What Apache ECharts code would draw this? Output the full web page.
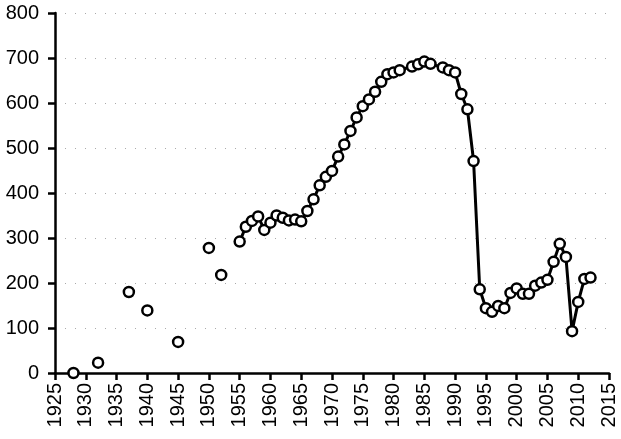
<!DOCTYPE html>
<html>
<head>
<meta charset="utf-8">
<script src="https://cdn.jsdelivr.net/npm/echarts@6/dist/echarts.min.js"></script>
<style>html,body{margin:0;padding:0;background:#fff;}#c{width:621px;height:439px;}</style>
</head>
<body>
<div id="c"></div>
<script>
var earlyYears = [1928, 1932, 1937, 1940, 1945, 1950, 1952];
var earlyValues = [0, 23, 180, 139, 69, 278, 218];
var lateYears = [1955,1956,1957,1958,1959,1960,1961,1962,1963,1964,1965,1966,1967,1968,1969,1970,1971,1972,1973,1974,1975,1976,1977,1978,1979,1980,1981,1983,1984,1985,1986,1988,1989,1990,1991,1992,1993,1994,1995,1996,1997,1998,1999,2000,2001,2002,2003,2004,2005,2006,2007,2008,2009,2010,2011,2012];
var lateValues = [292,325,338,348,318,334,350,345,339,341,337,360,386,417,436,449,481,508,538,568,593,608,625,647,664,668,673,681,686,692,687,679,673,668,620,586,471,186,144,136,149,144,178,188,176,176,194,201,207,247,287,258,93,158,209,212];
var yTicks = [0,100,200,300,400,500,600,700,800];

function pairs(xs, ys){ return xs.map(function(x,i){ return [x, ys[i]]; }); }

var chart = echarts.init(document.getElementById('c'), null, {renderer:'canvas'});
var font = 'Liberation Sans';
var sym = {color:'#fff', borderColor:'#000', borderWidth:2.5, opacity:1};
chart.setOption({
  animation:false,
  backgroundColor:'#fff',
  grid:{left:55, right:12, top:13, bottom:66, containLabel:false},
  xAxis:{
    type:'value', min:1925, max:2015, interval:5,
    axisLine:{show:true, lineStyle:{color:'#000', width:2.5}},
    axisTick:{show:true, length:7, lineStyle:{color:'#000', width:2.5}},
    axisLabel:{rotate:90, margin:10, color:'#000', fontFamily:font, fontSize:20, formatter:function(v){return String(v);}},
    splitLine:{show:false}
  },
  yAxis:{
    type:'value', min:0, max:800, interval:100,
    axisLine:{show:true, lineStyle:{color:'#000', width:2.5}},
    axisTick:{show:true, length:7, lineStyle:{color:'#000', width:2.5}},
    axisLabel:{margin:16, color:'#000', fontFamily:font, fontSize:20, formatter:function(v){ return yTicks.indexOf(v)>=0 ? String(v) : ''; }},
    splitLine:{show:true, lineStyle:{color:'#aaa', width:1, type:[1,9]}}
  },
  series:[
    {type:'scatter', data:pairs(earlyYears, earlyValues), symbol:'circle', symbolSize:10, itemStyle:sym, z:3},
    {type:'line', data:pairs(lateYears, lateValues), symbol:'circle', symbolSize:10, showAllSymbol:true,
     lineStyle:{color:'#000', width:3}, itemStyle:sym, z:3}
  ]
});
</script>
</body>
</html>
